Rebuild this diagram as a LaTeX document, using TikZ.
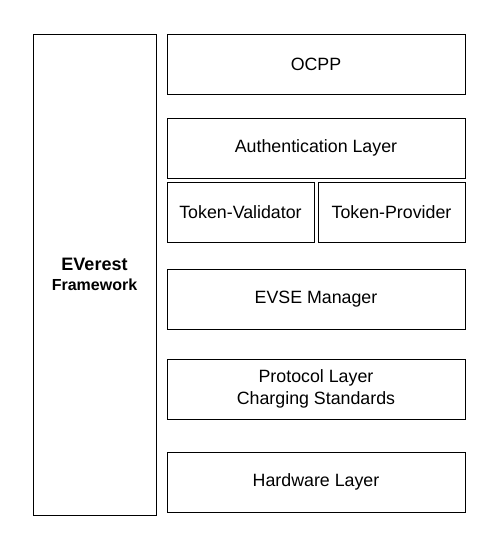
\documentclass[tikz,border=0pt]{standalone}
\usepackage{fontspec}
\setmainfont{Liberation Sans}
\begin{document}
\begin{tikzpicture}[x=1pt,y=-1pt,
  layer/.style={draw=black,line width=1pt,fill=white,font=\fontsize{17.8}{22}\selectfont,align=center,inner sep=0pt}]
\useasboundingbox[fill=white] (0,0) rectangle (504,555);
\node[layer,minimum width=123pt,minimum height=481pt,font=\fontsize{18}{20}\selectfont] (ev) at (94.5,274.5) {\textbf{EVerest}\\{\fontsize{16}{20}\selectfont\textbf{Framework}}};
\node[layer,minimum width=298pt,minimum height=60pt] (ocpp) at (316,64) {OCPP};
\node[layer,minimum width=298pt,minimum height=60pt] (auth) at (316,148) {Authentication Layer};
\node[layer,minimum width=147pt,minimum height=60pt] (tv) at (240.5,212) {Token-Validator};
\node[layer,minimum width=147pt,minimum height=60pt] (tp) at (391.5,212) {Token-Provider};
\node[layer,minimum width=298pt,minimum height=60pt] (evse) at (316,299) {EVSE Manager};
\node[layer,minimum width=298pt,minimum height=60pt] (proto) at (316,389) {Protocol Layer\\Charging Standards};
\node[layer,minimum width=298pt,minimum height=60pt] (hw) at (316,482) {Hardware Layer};
\end{tikzpicture}
\end{document}
